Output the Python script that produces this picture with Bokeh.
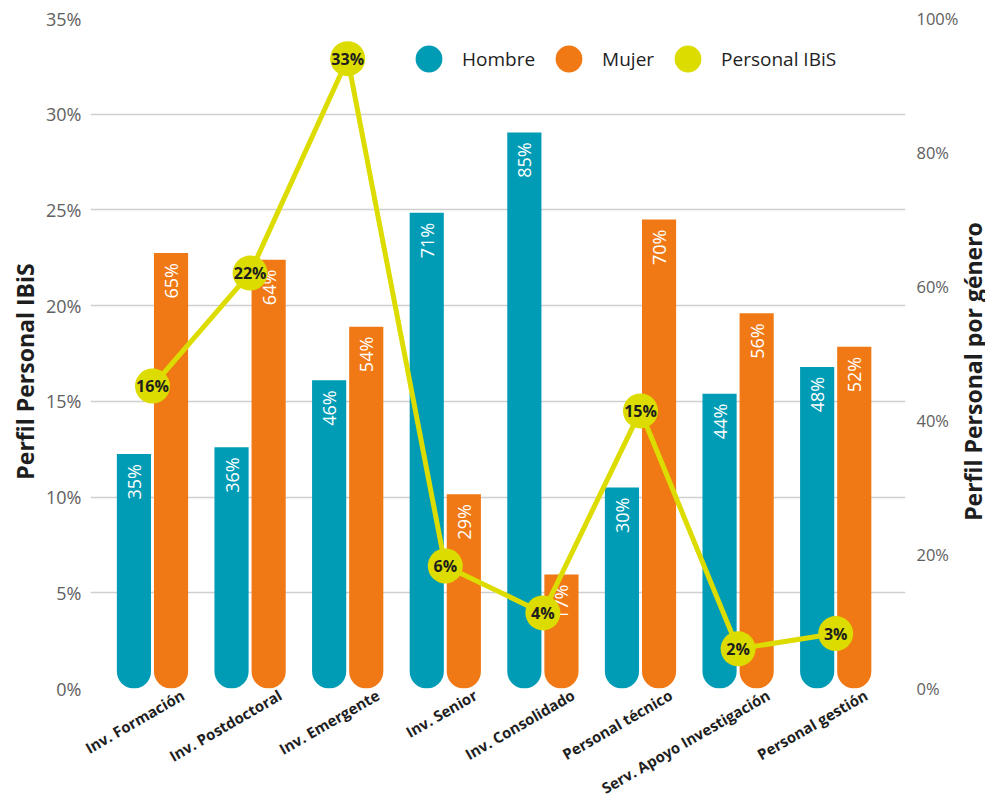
import math
from bokeh.plotting import figure
from bokeh.layouts import row
from bokeh.models import (Range1d, LinearAxis, FixedTicker, ColumnDataSource, Legend,
                          LegendItem, PrintfTickFormatter, Label)
from bokeh.transform import dodge
from bokeh.core.properties import value
from bokeh.embed import file_html
from bokeh.resources import INLINE

# ---------------- data ----------------
categories = ["Inv. Formación", "Inv. Postdoctoral", "Inv. Emergente", "Inv. Senior",
              "Inv. Consolidado", "Personal técnico", "Serv. Apoyo Investigación",
              "Personal gestión"]
hombre = [35, 36, 46, 71, 83, 30, 44, 48]
hombre_labels = ["35%", "36%", "46%", "71%", "85%", "30%", "44%", "48%"]
mujer = [65, 64, 54, 29, 17, 70, 56, 51]
mujer_labels = ["65%", "64%", "54%", "29%", "17%", "70%", "56%", "52%"]
ibis = [15.8, 21.7, 32.9, 6.4, 3.95, 14.5, 2.07, 2.87]
ibis_labels = ["16%", "22%", "33%", "6%", "4%", "15%", "2%", "3%"]
left_ticks = [0, 5, 10, 15, 20, 25, 30, 35]
right_ticks = [0, 20, 40, 60, 80, 100]
left_title = "Perfil Personal IBiS"
right_title = "Perfil Personal por género"

TEAL = "#009CB5"
ORANGE = "#F07915"
YELLOW = "#DCDC00"
DARK = "#1e1e1e"
GREY = "#606060"
FONT = value("Open Sans")

idx = list(range(len(categories)))
src = ColumnDataSource(dict(idx=idx, cat=categories,
                            hombre=hombre, hl=hombre_labels,
                            mujer=mujer, ml=mujer_labels,
                            ibis=ibis, il=ibis_labels))

H = 809
p = figure(width=925, height=H, x_range=Range1d(-0.635, 7.715), y_range=Range1d(0, 35),
           output_backend="svg", toolbar_location=None,
           min_border_left=54, min_border_right=56, min_border_top=18, min_border_bottom=120)
p.extra_y_ranges = {"gen": Range1d(0, 100)}
p.outline_line_color = None
p.background_fill_color = "white"
p.border_fill_color = "white"

p.xgrid.visible = False
p.ygrid.grid_line_color = "#cfcfcf"
p.ygrid.grid_line_width = 1.5


def bare(ax):
    ax.axis_line_color = None
    ax.major_tick_line_color = None
    ax.minor_tick_line_color = None
    ax.major_tick_out = 0
    ax.major_tick_in = 0
    ax.minor_tick_out = 0
    ax.minor_tick_in = 0


# category axis (labels rotated, anchored right of the category centre)
label_shift = 0.31
xticks = [i + label_shift for i in idx]
xa = p.xaxis[0]
bare(xa)
xa.ticker = FixedTicker(ticks=xticks)
xa.major_label_overrides = {t: c for t, c in zip(xticks, categories)}
xa.major_label_orientation = math.pi / 6
xa.major_label_text_font = "Open Sans"
xa.major_label_text_font_style = "bold"
xa.major_label_text_font_size = "15px"
xa.major_label_text_color = DARK
xa.major_label_standoff = 5

ly = p.yaxis[0]
bare(ly)
ly.ticker = FixedTicker(ticks=left_ticks)
ly.formatter = PrintfTickFormatter(format="%d%%")
ly.major_label_text_font = "Open Sans"
ly.major_label_text_font_size = "18px"
ly.major_label_text_color = GREY
ly.major_label_standoff = 9

ry = LinearAxis(y_range_name="gen", ticker=FixedTicker(ticks=right_ticks),
                formatter=PrintfTickFormatter(format="%d%%"))
bare(ry)
ry.major_label_text_font = "Open Sans"
ry.major_label_text_font_size = "16.5px"
ry.major_label_text_color = GREY
ry.major_label_standoff = 11
p.add_layout(ry, "right")

# bars
p.vbar(x=dodge("idx", -0.19), top="hombre", bottom=0, width=0.35, source=src,
       y_range_name="gen", fill_color=TEAL, line_color=None, border_radius=(0, 0, 17, 17))
p.vbar(x=dodge("idx", 0.19), top="mujer", bottom=0, width=0.35, source=src,
       y_range_name="gen", fill_color=ORANGE, line_color=None, border_radius=(0, 0, 17, 17))

# bar labels
for off, col in ((-0.19, ("hombre", "hl")), (0.19, ("mujer", "ml"))):
    p.text(x=dodge("idx", off), y=col[0], text=col[1], source=src, y_range_name="gen",
           angle=math.pi / 2, text_align="right", text_baseline="middle", y_offset=10,
           text_color="white", text_font=FONT, text_font_size="18px")

# legend helpers (zero-size markers, only their legend swatch is visible)
lh = p.scatter(x=dodge("idx", -0.19), y="hombre", source=src, y_range_name="gen", size=0,
               marker="circle", fill_color=TEAL, line_color=None)
lm = p.scatter(x=dodge("idx", 0.19), y="mujer", source=src, y_range_name="gen", size=0,
               marker="circle", fill_color=ORANGE, line_color=None)

# line
p.line(x="idx", y="ibis", source=src, line_color=YELLOW, line_width=5)
li = p.scatter(x="idx", y="ibis", source=src, size=35, marker="circle",
               fill_color=YELLOW, line_color=None)
p.text(x="idx", y="ibis", text="il", source=src, text_align="center", text_baseline="middle",
       text_color=DARK, text_font=FONT, text_font_style="bold", text_font_size="16px")

legend = Legend(items=[LegendItem(label="Hombre", renderers=[lh]),
                       LegendItem(label="Mujer", renderers=[lm]),
                       LegendItem(label="Personal IBiS", renderers=[li])],
                orientation="horizontal", location=(305, 596),
                glyph_width=67, glyph_height=67, label_standoff=0, spacing=0,
                padding=0, margin=0, border_line_color=None, background_fill_alpha=0,
                label_text_font="Open Sans", label_text_font_size="19px",
                label_text_color=DARK)
p.add_layout(legend, "center")


# narrow side strips carrying the two axis titles (rotated, reading upwards);
# their frames are aligned with the main frame by the row layout
def title_strip(width, text, cx):
    f = figure(width=width, height=H, x_range=Range1d(0, 1), y_range=Range1d(0, 1),
               output_backend="svg", toolbar_location=None,
               x_axis_location=None, y_axis_location=None,
               min_border=0, min_border_left=0, min_border_right=0,
               min_border_top=0, min_border_bottom=0)
    f.outline_line_color = None
    f.grid.visible = False
    f.background_fill_color = "white"
    f.border_fill_color = "white"
    f.add_layout(Label(x=cx, y=317, x_units="screen", y_units="screen", text=text,
                       angle=math.pi / 2, text_align="center", text_baseline="middle",
                       text_font="Open Sans", text_font_style="bold",
                       text_font_size="23px", text_color=DARK))
    return f


left_strip = title_strip(36, left_title, 24)
right_strip = title_strip(24, right_title, 11)

layout = row(left_strip, p, right_strip, spacing=0)
open("out.html", "w").write(file_html(layout, INLINE))
